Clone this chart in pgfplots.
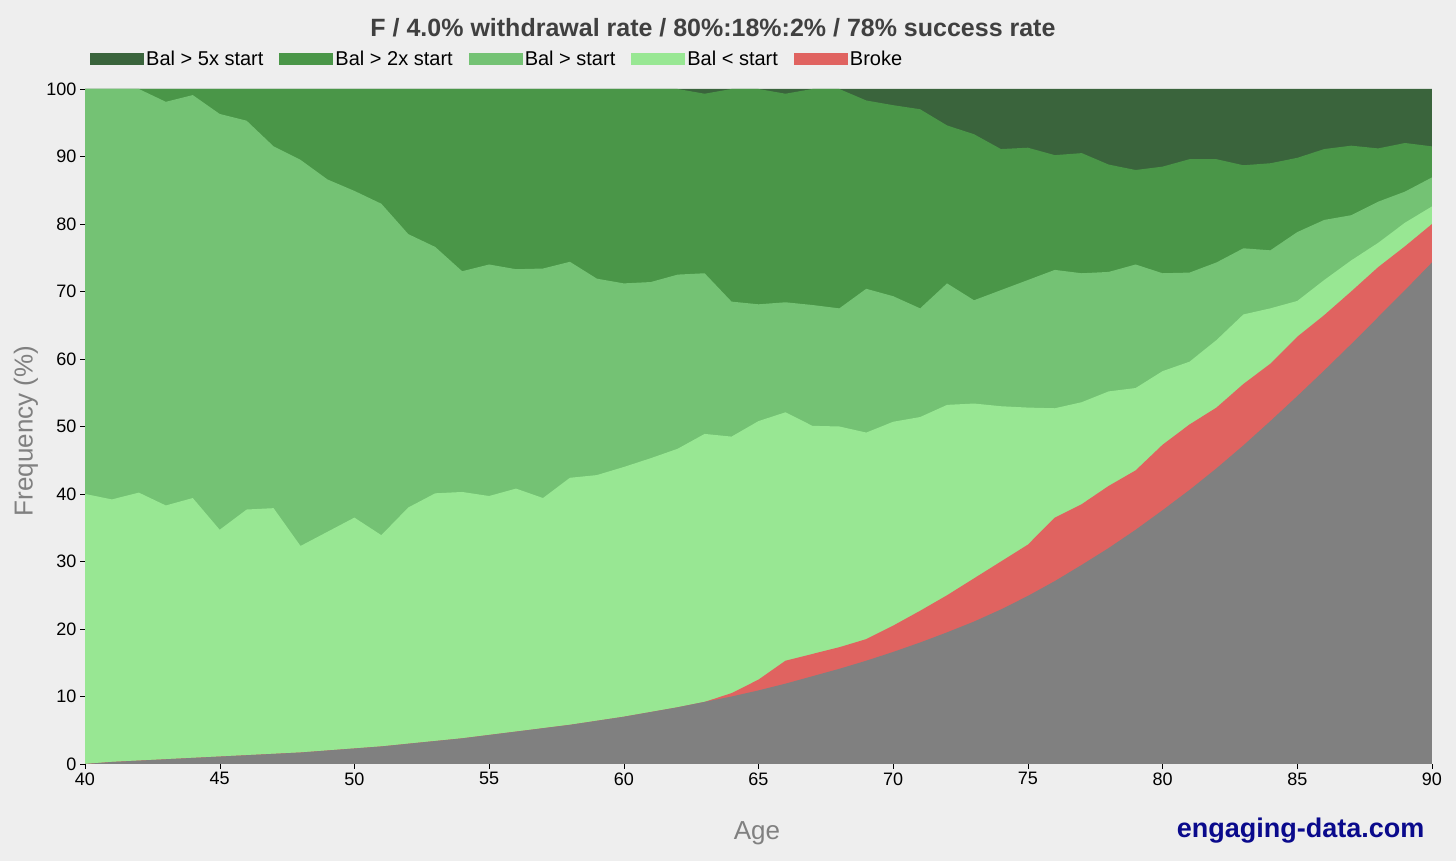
\documentclass[border=0pt]{standalone}
\usepackage{pgfplots}
\pgfplotsset{compat=1.18}
\usepackage{pgfplotstable}
\usepackage{fontspec}
\setmainfont{Liberation Sans}
\definecolor{bg}{RGB}{238,238,238}
\definecolor{cfive}{RGB}{58,100,60}
\definecolor{ctwo}{RGB}{74,150,72}
\definecolor{cstart}{RGB}{116,194,116}
\definecolor{cbelow}{RGB}{152,231,147}
\definecolor{cbroke}{RGB}{224,99,96}
\definecolor{cgray}{RGB}{128,128,128}
\definecolor{navyw}{RGB}{10,10,140}
\pgfplotstableread{
age G R L S T
40 0 0 40 100 100
41 0.3 0.3 39.2 100 100
42 0.5 0.5 40.2 100 100
43 0.7 0.7 38.3 98.1 100
44 0.9 0.9 39.4 99.1 100
45 1.1 1.1 34.7 96.3 100
46 1.3 1.3 37.7 95.3 100
47 1.5 1.5 37.9 91.5 100
48 1.7 1.7 32.3 89.5 100
49 2.0 2.0 34.4 86.6 100
50 2.3 2.3 36.5 84.9 100
51 2.6 2.6 33.9 83.0 100
52 3.0 3.0 38.0 78.5 100
53 3.4 3.4 40.1 76.6 100
54 3.8 3.8 40.3 73.0 100
55 4.3 4.3 39.7 74.0 100
56 4.8 4.8 40.8 73.3 100
57 5.3 5.3 39.4 73.4 100
58 5.8 5.8 42.4 74.4 100
59 6.4 6.4 42.8 71.9 100
60 7.0 7.0 44.0 71.2 100
61 7.7 7.7 45.3 71.4 100
62 8.4 8.4 46.7 72.5 100
63 9.2 9.2 48.9 72.7 99.3
64 10.0 10.5 48.5 68.5 100
65 10.9 12.5 50.8 68.1 100
66 11.9 15.3 52.1 68.4 99.3
67 13.0 16.3 50.1 68.0 100
68 14.1 17.3 50.0 67.5 100
69 15.3 18.5 49.1 70.4 98.3
70 16.6 20.5 50.7 69.3 97.6
71 18.0 22.7 51.4 67.5 97.0
72 19.5 25.0 53.2 71.2 94.6
73 21.1 27.5 53.4 68.7 93.3
74 22.9 30.0 53.0 70.2 91.1
75 24.9 32.5 52.8 71.7 91.3
76 27.1 36.5 52.7 73.2 90.2
77 29.5 38.5 53.6 72.7 90.5
78 32.0 41.2 55.2 72.9 88.8
79 34.7 43.5 55.7 74.0 88.0
80 37.6 47.3 58.2 72.7 88.5
81 40.6 50.3 59.6 72.8 89.6
82 43.8 52.8 62.8 74.3 89.6
83 47.2 56.3 66.6 76.4 88.7
84 50.8 59.3 67.5 76.1 89.0
85 54.5 63.3 68.6 78.8 89.8
86 58.3 66.5 71.7 80.6 91.1
87 62.2 70.0 74.6 81.3 91.6
88 66.2 73.6 77.2 83.3 91.2
89 70.2 76.7 80.2 84.8 92.0
90 74.3 80.0 82.6 86.9 91.5
}\data
\begin{document}
\begin{tikzpicture}
\fill[bg] (0pt,0pt) rectangle (1456pt,861pt);
\begin{axis}[at={(85pt,97pt)}, anchor=south west, scale only axis,
 width=1347pt, height=675pt, xmin=40, xmax=90, ymin=0, ymax=100,
 xtick={40,45,...,90}, ytick={0,10,...,100},
 axis line style={draw=none}, tick align=outside, major tick length=5pt,
 tick style={black}, xtick pos=bottom, ytick pos=left,
 ticklabel style={font=\fontsize{18}{20}\selectfont},
 /pgf/number format/assume math mode=true,
 axis background/.style={fill=bg},
 legend columns=5, area legend,
 legend style={at={(0,1)}, anchor=south west, xshift=2pt, yshift=18pt, draw=none, fill=none,
   font=\fontsize{20}{22}\selectfont, /tikz/every even column/.append style={column sep=14pt}},
 legend image code/.code={\fill[#1] (0pt,-6pt) rectangle (54pt,6pt);},
]
\addplot[fill=cfive, draw=none] table[x=age, y expr=100] {\data} \closedcycle;
\addlegendentry{Bal > 5x start}
\addplot[fill=ctwo, draw=none] table[x=age, y=T] {\data} \closedcycle;
\addlegendentry{Bal > 2x start}
\addplot[fill=cstart, draw=none] table[x=age, y=S] {\data} \closedcycle;
\addlegendentry{Bal > start}
\addplot[fill=cbelow, draw=none] table[x=age, y=L] {\data} \closedcycle;
\addlegendentry{Bal < start}
\addplot[fill=cbroke, draw=none] table[x=age, y=R] {\data} \closedcycle;
\addlegendentry{Broke}
\addplot[fill=cgray, draw=none, forget plot] table[x=age, y=G] {\data} \closedcycle;
\end{axis}
\node[font=\bfseries\fontsize{25}{28}\selectfont, text=black!75] at (713pt,833pt) {F / 4.0\% withdrawal rate / 80\%:18\%:2\% / 78\% success rate};
\node[font=\fontsize{26}{28}\selectfont, text=black!50, rotate=90] at (26pt,430pt) {Frequency (\%)};
\node[font=\fontsize{26}{28}\selectfont, text=black!50] at (757pt,28pt) {Age};
\node[font=\bfseries\fontsize{27}{30}\selectfont, text=navyw, anchor=east] at (1428pt,30pt) {engaging-data.com};
\end{tikzpicture}
\end{document}
